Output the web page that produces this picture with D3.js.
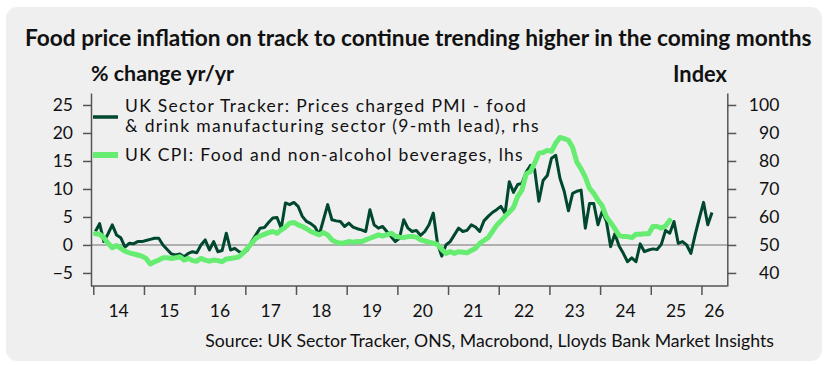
<!DOCTYPE html>
<html><head><meta charset="utf-8">
<script src="https://cdn.jsdelivr.net/npm/d3@7"></script>
<style>
html,body{margin:0;padding:0;background:#fff;}
svg{display:block;font-family:Lato,"Open Sans",sans-serif;}
</style></head>
<body><svg id="c" width="833" height="365"></svg>
<script>
// ---------- data ----------
const title = "Food price inflation on track to continue trending higher in the coming months";
const leftAxisTitle = "% change yr/yr";
const rightAxisTitle = "Index";
const sourceText = "Source: UK Sector Tracker, ONS, Macrobond, Lloyds Bank Market Insights";
const legendPMI = ["UK Sector Tracker: Prices charged PMI - food", "& drink manufacturing sector (9-mth lead), rhs"];
const legendCPI = "UK CPI: Food and non-alcohol beverages, lhs";
const startYear = 2014; // first monthly observation = Jan 2014
const yearTicks = [2014,2015,2016,2017,2018,2019,2020,2021,2022,2023,2024,2025,2026];
const yearLabels = ["14","15","16","17","18","19","20","21","22","23","24","25","26"];
const leftTicks = [-5,0,5,10,15,20,25];
const rightTicks = [40,50,60,70,80,90,100];

// UK Sector Tracker prices charged PMI (index, 9-month lead), monthly from Jan 2014
const pmiIndex = [
54.8,57.6,51.2,54.0,57.2,53.6,52.6,49.2,50.6,50.4,51.2,51.2,
51.6,52.0,52.4,52.4,50.0,48.4,46.8,46.4,46.8,45.8,47.0,47.6,
47.2,50.0,51.8,48.2,51.2,47.6,48.0,54.2,48.2,48.8,47.6,47.0,
48.2,51.2,53.6,56.0,56.2,58.0,59.6,59.8,56.0,65.0,64.4,65.2,
63.8,60.2,58.4,57.6,56.4,53.6,59.0,64.4,59.0,58.6,58.4,56.6,
57.8,56.4,55.8,55.4,54.8,62.6,57.2,56.0,56.6,54.8,53.0,51.2,
52.4,59.0,56.0,54.8,55.2,53.4,54.8,57.2,61.4,50.6,46.0,50.0,
51.2,53.6,56.0,54.8,55.2,57.2,56.4,54.8,58.6,60.2,61.6,62.6,
63.8,61.2,72.6,68.8,71.6,72.0,76.0,78.4,77.0,65.6,73.0,74.8,
81.0,82.0,73.8,69.2,62.2,68.4,69.2,69.6,56.0,64.8,64.8,57.2,
62.0,58.4,49.4,54.0,49.6,47.0,44.0,45.4,44.0,50.4,47.6,48.2,
48.6,48.4,50.2,55.2,54.2,58.4,50.6,51.2,50.0,47.0,53.6,59.6,
65.2,57.2,61.6];

// UK CPI food & non-alcoholic beverages, % y/y, monthly from Jan 2014
const cpiFood = [
2.0,1.9,1.3,0.3,-0.5,-0.1,-0.6,-1.1,-1.4,-1.6,-1.8,-2.0,
-2.4,-3.4,-3.0,-2.7,-2.3,-2.3,-2.4,-2.3,-2.1,-2.7,-2.4,-2.8,
-2.9,-2.4,-2.7,-2.9,-2.7,-2.8,-3.0,-2.5,-2.4,-2.3,-2.1,-1.4,
-0.6,0.3,1.2,1.6,1.9,2.2,2.4,2.1,2.7,3.2,3.9,4.0,
3.6,3.3,2.9,2.4,2.1,1.8,2.2,1.8,0.9,0.5,0.3,0.4,
0.6,0.5,0.6,0.6,0.9,1.2,1.5,1.8,1.6,1.8,2.1,1.6,
1.4,1.3,1.5,1.5,1.4,0.9,0.7,0.5,0.3,0.1,-0.8,-1.5,
-1.2,-1.5,-1.2,-1.3,-1.4,-1.0,-0.6,0.3,0.8,1.3,2.4,3.5,
4.3,5.1,5.9,6.7,8.7,9.8,12.7,13.1,14.6,16.4,16.5,16.9,
16.7,18.2,19.2,19.0,18.7,17.4,14.8,13.6,12.1,10.1,9.2,8.0,
7.0,5.0,4.0,2.9,1.7,1.5,1.5,1.3,1.9,1.9,2.0,2.0,
3.3,3.3,3.0,3.4,4.4];

// ---------- chart ----------
const svg = d3.select("#c");
const colDark = "#00482d", colLight = "#66ec70", axisCol = "#555", zeroCol = "#9a9a9a";

svg.append("rect").attr("x",6).attr("y",7).attr("width",816).attr("height",354)
  .attr("rx",11).attr("fill","#efefef");

const xL = 91, xR = 727.3, yTop = 93, yBot = 286;
const x = d3.scaleLinear().domain([2013.955, 2026.51]).range([xL, xR]);
const yL = d3.scaleLinear().domain([-7.33, 27.14]).range([yBot, yTop]);
const yR = d3.scaleLinear().domain([50 - 2*7.33, 50 + 2*27.14]).range([yBot, yTop]);
const tmonth = i => startYear + (i + 0.5) / 12;

function fit(sel, w, maxFs) {
  const len = sel.node().getComputedTextLength();
  const fs = parseFloat(sel.attr("font-size"));
  let nfs = fs * w / len;
  if (maxFs && nfs > maxFs) {
    nfs = maxFs;
    sel.attr("font-size", nfs);
    const l2 = sel.node().getComputedTextLength();
    const n = sel.text().length;
    sel.attr("letter-spacing", ((w - l2) / n).toFixed(3));
  } else sel.attr("font-size", nfs.toFixed(2));
  return sel;
}

// title
fit(svg.append("text").attr("x",25).attr("y",46).attr("font-size",18).attr("font-weight","bold")
  .attr("fill","#111").text(title), 787);
// axis titles
fit(svg.append("text").attr("x",91).attr("y",81).attr("font-size",17).attr("font-weight","bold")
  .attr("fill","#111").text(leftAxisTitle), 143);
fit(svg.append("text").attr("x",727).attr("y",82).attr("text-anchor","end").attr("font-size",17)
  .attr("font-weight","bold").attr("fill","#111").text(rightAxisTitle), 54);

// zero line
svg.append("line").attr("x1",xL).attr("x2",xR).attr("y1",yL(0)).attr("y2",yL(0))
  .attr("stroke",zeroCol).attr("stroke-width",1.6);

// axes
const gL = svg.append("g").attr("transform",`translate(${xL},0)`)
  .call(d3.axisLeft(yL).tickValues(leftTicks).tickSize(8).tickSizeOuter(0).tickPadding(10).tickFormat(d3.format("d")));
const gR = svg.append("g").attr("transform",`translate(${xR},0)`)
  .call(d3.axisRight(yR).tickValues(rightTicks).tickSize(9).tickSizeOuter(0).tickPadding(10).tickFormat(d3.format("d")));
gR.selectAll("text").attr("text-anchor","end").attr("x",52);
const gB = svg.append("g").attr("transform",`translate(0,${yBot})`)
  .call(d3.axisBottom(x).tickValues(yearTicks).tickSize(9).tickSizeOuter(0).tickFormat(""));
[gL,gR,gB].forEach(g=>{
  g.selectAll("path,line").attr("stroke",axisCol).attr("stroke-width",1.5);
  g.selectAll("text").attr("font-size",17.5).attr("fill","#111").attr("font-family","Lato,'Open Sans',sans-serif");
});
gB.select("path").attr("d",`M${xL},0H${xR}`);

// year labels
svg.append("g").selectAll("text").data(yearTicks).join("text")
  .attr("x",(d)=> (x(d) + Math.min(x(d+1), xR)) / 2)
  .attr("y",317).attr("text-anchor","middle").attr("font-size",17.5).attr("fill","#111")
  .text((d,i)=>yearLabels[i]);

// lines
const linePMI = d3.line().x((d,i)=>x(tmonth(i))).y(d=>yR(d)).curve(d3.curveLinear);
const lineCPI = d3.line().x((d,i)=>x(tmonth(i))).y(d=>yL(d)).curve(d3.curveLinear);
svg.append("path").datum(pmiIndex).attr("d",linePMI).attr("fill","none")
  .attr("stroke",colDark).attr("stroke-width",3).attr("stroke-linejoin","round");
svg.append("path").datum(cpiFood).attr("d",lineCPI).attr("fill","none")
  .attr("stroke",colLight).attr("stroke-width",5).attr("stroke-linejoin","round").attr("stroke-linecap","round");

// legend
svg.append("line").attr("x1",93).attr("x2",118).attr("y1",117).attr("y2",117)
  .attr("stroke",colDark).attr("stroke-width",3.5);
svg.append("line").attr("x1",93).attr("x2",118).attr("y1",155).attr("y2",155)
  .attr("stroke",colLight).attr("stroke-width",6);
const legFs = 17.5;
fit(svg.append("text").attr("x",125).attr("y",112).attr("font-size",legFs).attr("fill","#111").text(legendPMI[0]), 402, legFs);
fit(svg.append("text").attr("x",125).attr("y",132).attr("font-size",legFs).attr("fill","#111").text(legendPMI[1]), 415, legFs);
fit(svg.append("text").attr("x",125).attr("y",161).attr("font-size",legFs).attr("fill","#111").text(legendCPI), 399, legFs);

// source
fit(svg.append("text").attr("x",774).attr("y",347).attr("text-anchor","end").attr("font-size",15.5)
  .attr("fill","#111").text(sourceText), 569);
</script></body></html>
